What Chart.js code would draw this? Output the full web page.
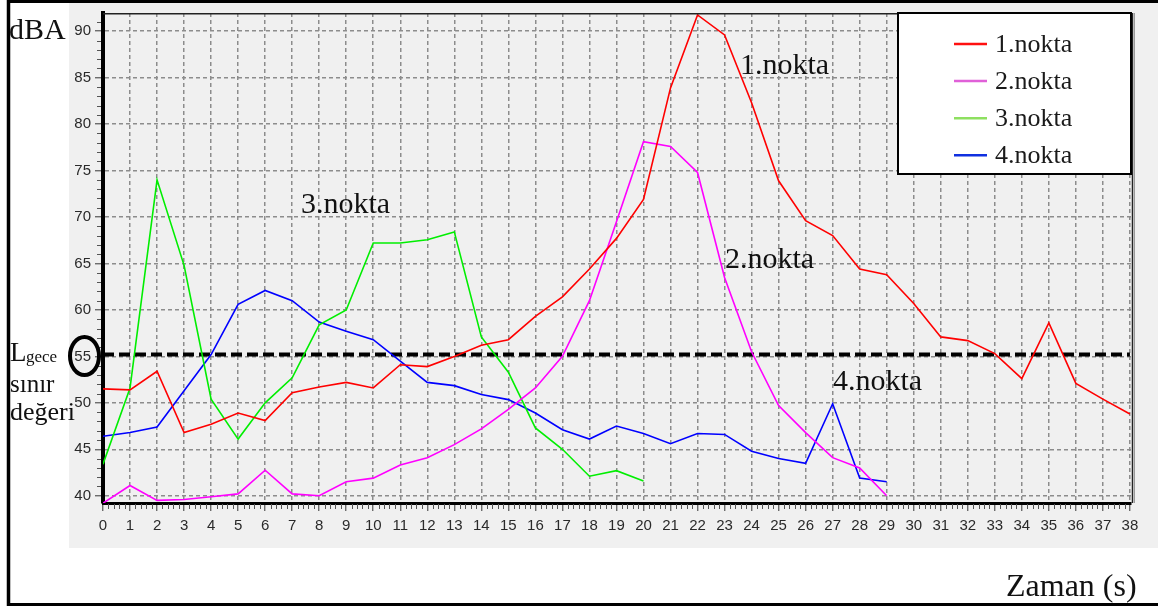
<!DOCTYPE html>
<html>
<head>
<meta charset="utf-8">
<title>dBA - Zaman</title>
<script src="https://cdn.jsdelivr.net/npm/chart.js@4.4.1/dist/chart.umd.min.js"></script>
<style>
  html, body { margin: 0; padding: 0; background: #fff; }
  #wrap { width: 1158px; height: 610px; position: relative; }
</style>
</head>
<body>
<div id="wrap"><canvas id="c" width="1158" height="610"></canvas></div>
<script>
// Time axis (seconds) and y tick values
const seconds = [0,1,2,3,4,5,6,7,8,9,10,11,12,13,14,15,16,17,18,19,20,21,22,23,24,25,26,27,28,29,30,31,32,33,34,35,36,37,38];
const yTicks = [40,45,50,55,60,65,70,75,80,85,90];

// Measured sound levels (dBA) per measurement point
const nokta1 = [51.5,51.4,53.4,46.8,47.7,48.9,48.1,51.1,51.7,52.2,51.6,54.1,53.9,55.0,56.2,56.8,59.3,61.4,64.4,67.7,71.9,83.9,91.75,89.6,82.3,73.9,69.6,68.0,64.4,63.8,60.7,57.1,56.7,55.3,52.6,58.6,52.1,50.4,48.8];
const nokta2 = [39.2,41.1,39.5,39.6,39.9,40.2,42.75,40.2,40.0,41.5,41.9,43.3,44.1,45.5,47.2,49.3,51.6,55.0,61.0,69.5,78.1,77.6,74.8,63.5,55.5,49.7,46.8,44.1,43.0,40.0];
const nokta3 = [43.4,51.6,74.0,64.8,50.4,46.1,50.0,52.7,58.4,60.0,67.2,67.2,67.55,68.4,57.1,53.3,47.3,45.0,42.1,42.7,41.6];
const nokta4 = [46.4,46.8,47.4,51.3,55.2,60.6,62.1,61.0,58.7,57.7,56.8,54.5,52.2,51.85,50.9,50.35,48.9,47.1,46.1,47.5,46.7,45.6,46.7,46.6,44.8,44.0,43.5,49.9,41.9,41.5];

// Night-time limit (L gece)
const limitValue = 55.2;

const seriesNames = ['1.nokta','2.nokta','3.nokta','4.nokta'];
const seriesColors = ['#ff0000','#ff00ff','#00ee00','#0000ff'];
const legendColors = ['#ff1010','#e060d8','#8ee060','#1030e0'];

const W = 1158, H = 610;
const serif = "'Liberation Serif', 'Times New Roman', serif";
const sans = "'Liberation Sans', Arial, sans-serif";

function points(values) {
  return values.map((v, i) => ({ x: seconds[i], y: v }));
}

const datasets = [nokta1, nokta2, nokta3, nokta4].map((vals, k) => ({
  label: seriesNames[k],
  data: points(vals),
  borderColor: seriesColors[k],
  borderWidth: 1.6,
  pointRadius: 0,
  tension: 0,
  fill: false
}));

datasets.push({
  label: 'limit',
  data: [{ x: seconds[0], y: limitValue }, { x: seconds[seconds.length - 1], y: limitValue }],
  borderColor: '#000',
  borderWidth: 4,
  borderDash: [11, 5],
  pointRadius: 0,
  tension: 0,
  fill: false
});

// Background panels
const backdrop = {
  id: 'backdrop',
  beforeDraw(chart) {
    const ctx = chart.ctx;
    ctx.save();
    ctx.fillStyle = '#ffffff';
    ctx.fillRect(0, 0, W, H);
    ctx.fillStyle = '#f0f0f0';
    ctx.fillRect(69, 3, W - 69, 545);
    ctx.restore();
  }
};

// Minor ticks, plot frame, legend and labels
const decorations = {
  id: 'decorations',
  afterDraw(chart) {
    const ctx = chart.ctx;
    const a = chart.chartArea;
    const xs = chart.scales.x, ys = chart.scales.y;
    ctx.save();
    ctx.setLineDash([]);

    // minor ticks on the time axis
    ctx.strokeStyle = '#555';
    ctx.lineWidth = 1;
    ctx.beginPath();
    for (let s = 0; s < seconds.length - 1; s++) {
      for (let m = 1; m < 5; m++) {
        const px = Math.round(xs.getPixelForValue(seconds[s] + m / 5)) + 0.5;
        ctx.moveTo(px, a.bottom + 1);
        ctx.lineTo(px, a.bottom + 6);
      }
    }
    // minor ticks on the dBA axis
    for (let v = Math.ceil(ys.min); v <= ys.max; v++) {
      if (v % 5 === 0) continue;
      const py = Math.round(ys.getPixelForValue(v)) + 0.5;
      ctx.moveTo(a.left - 6, py);
      ctx.lineTo(a.left - 2, py);
    }
    ctx.stroke();

    // top and right frame of the plot
    ctx.strokeStyle = '#222';
    ctx.lineWidth = 1.5;
    ctx.beginPath();
    ctx.moveTo(a.left, a.top + 0.75);
    ctx.lineTo(a.right + 2, a.top + 0.75);
    ctx.moveTo(a.right + 1.5, a.top);
    ctx.lineTo(a.right + 1.5, a.bottom);
    ctx.stroke();
    ctx.strokeStyle = '#9a9a9a';
    ctx.lineWidth = 1;
    ctx.beginPath();
    ctx.moveTo(a.right + 3.5, a.top);
    ctx.lineTo(a.right + 3.5, a.bottom);
    ctx.stroke();

    // legend box
    const lx = 898, ly = 13, lw = 233, lh = 161;
    ctx.fillStyle = '#ffffff';
    ctx.fillRect(lx, ly, lw, lh);
    ctx.strokeStyle = '#000';
    ctx.lineWidth = 2;
    ctx.strokeRect(lx, ly, lw, lh);
    ctx.font = '26px ' + serif;
    ctx.textBaseline = 'alphabetic';
    ctx.textAlign = 'left';
    chart.data.datasets.slice(0, 4).forEach((ds, k) => {
      const yLine = 44 + k * 37.1;
      ctx.strokeStyle = legendColors[k];
      ctx.lineWidth = 2.5;
      ctx.beginPath();
      ctx.moveTo(954, yLine);
      ctx.lineTo(987, yLine);
      ctx.stroke();
      ctx.fillStyle = '#1a1a1a';
      ctx.fillText(ds.label, 995, yLine + 8);
    });

    // outer frame of the figure
    ctx.strokeStyle = '#000';
    ctx.lineWidth = 3.5;
    ctx.beginPath();
    ctx.moveTo(8.5, 0);
    ctx.lineTo(8.5, 606);
    ctx.stroke();
    ctx.lineWidth = 3;
    ctx.beginPath();
    ctx.moveTo(7, 1.5);
    ctx.lineTo(W, 1.5);
    ctx.moveTo(7, 604.5);
    ctx.lineTo(W, 604.5);
    ctx.stroke();

    // ring around the 55 tick label
    ctx.lineWidth = 4;
    ctx.beginPath();
    ctx.ellipse(84.5, 356, 14.5, 19, 0, 0, Math.PI * 2);
    ctx.stroke();

    // texts
    ctx.fillStyle = '#111';
    ctx.font = '30px ' + serif;
    ctx.fillText('dBA', 9, 39);
    ctx.fillText('1.nokta', 740, 74);
    ctx.fillText('2.nokta', 725, 268);
    ctx.fillText('3.nokta', 301, 213);
    ctx.fillText('4.nokta', 833, 390);
    ctx.font = '32px ' + serif;
    ctx.fillText('Zaman (s)', 1006, 596);
    ctx.font = '27px ' + serif;
    ctx.fillText('L', 10, 360.5);
    ctx.font = '17px ' + serif;
    ctx.fillText('gece', 26, 361.5);
    ctx.font = '25px ' + serif;
    ctx.fillText('sınır', 10, 391.5);
    ctx.font = '26px ' + serif;
    ctx.fillText('değeri', 10, 420);

    ctx.restore();
  }
};

const gridStyle = {
  color: '#8c8c8c',
  lineWidth: 1.5,
  tickLength: 8,
  tickColor: '#555',
  tickWidth: 1.2,
  tickBorderDash: []
};

new Chart(document.getElementById('c'), {
  type: 'line',
  data: { datasets },
  options: {
    responsive: false,
    animation: false,
    events: [],
    layout: { padding: { left: 0, top: 10, right: 27, bottom: 0 } },
    plugins: {
      legend: { display: false },
      tooltip: { enabled: false },
      title: { display: false }
    },
    scales: {
      x: {
        type: 'linear',
        min: seconds[0],
        max: 38.04,
        afterFit(scale) { scale.height = 107; },
        afterBuildTicks(scale) { scale.ticks = seconds.map(v => ({ value: v })); },
        ticks: {
          font: { family: sans, size: 15 },
          color: '#2a2a2a',
          padding: 6,
          maxRotation: 0,
          autoSkip: false,
          callback: v => String(v)
        },
        grid: gridStyle,
        border: { display: true, color: '#000', width: 3, dash: [4, 3] }
      },
      y: {
        type: 'linear',
        min: 39.22,
        max: 91.96,
        afterFit(scale) { scale.width = 103; },
        afterBuildTicks(scale) { scale.ticks = yTicks.map(v => ({ value: v })); },
        ticks: {
          font: { family: sans, size: 15 },
          color: '#2a2a2a',
          padding: 4,
          callback: v => String(v)
        },
        grid: gridStyle,
        border: { display: true, color: '#000', width: 4, dash: [4, 3] }
      }
    }
  },
  plugins: [backdrop, decorations]
});
</script>
</body>
</html>
